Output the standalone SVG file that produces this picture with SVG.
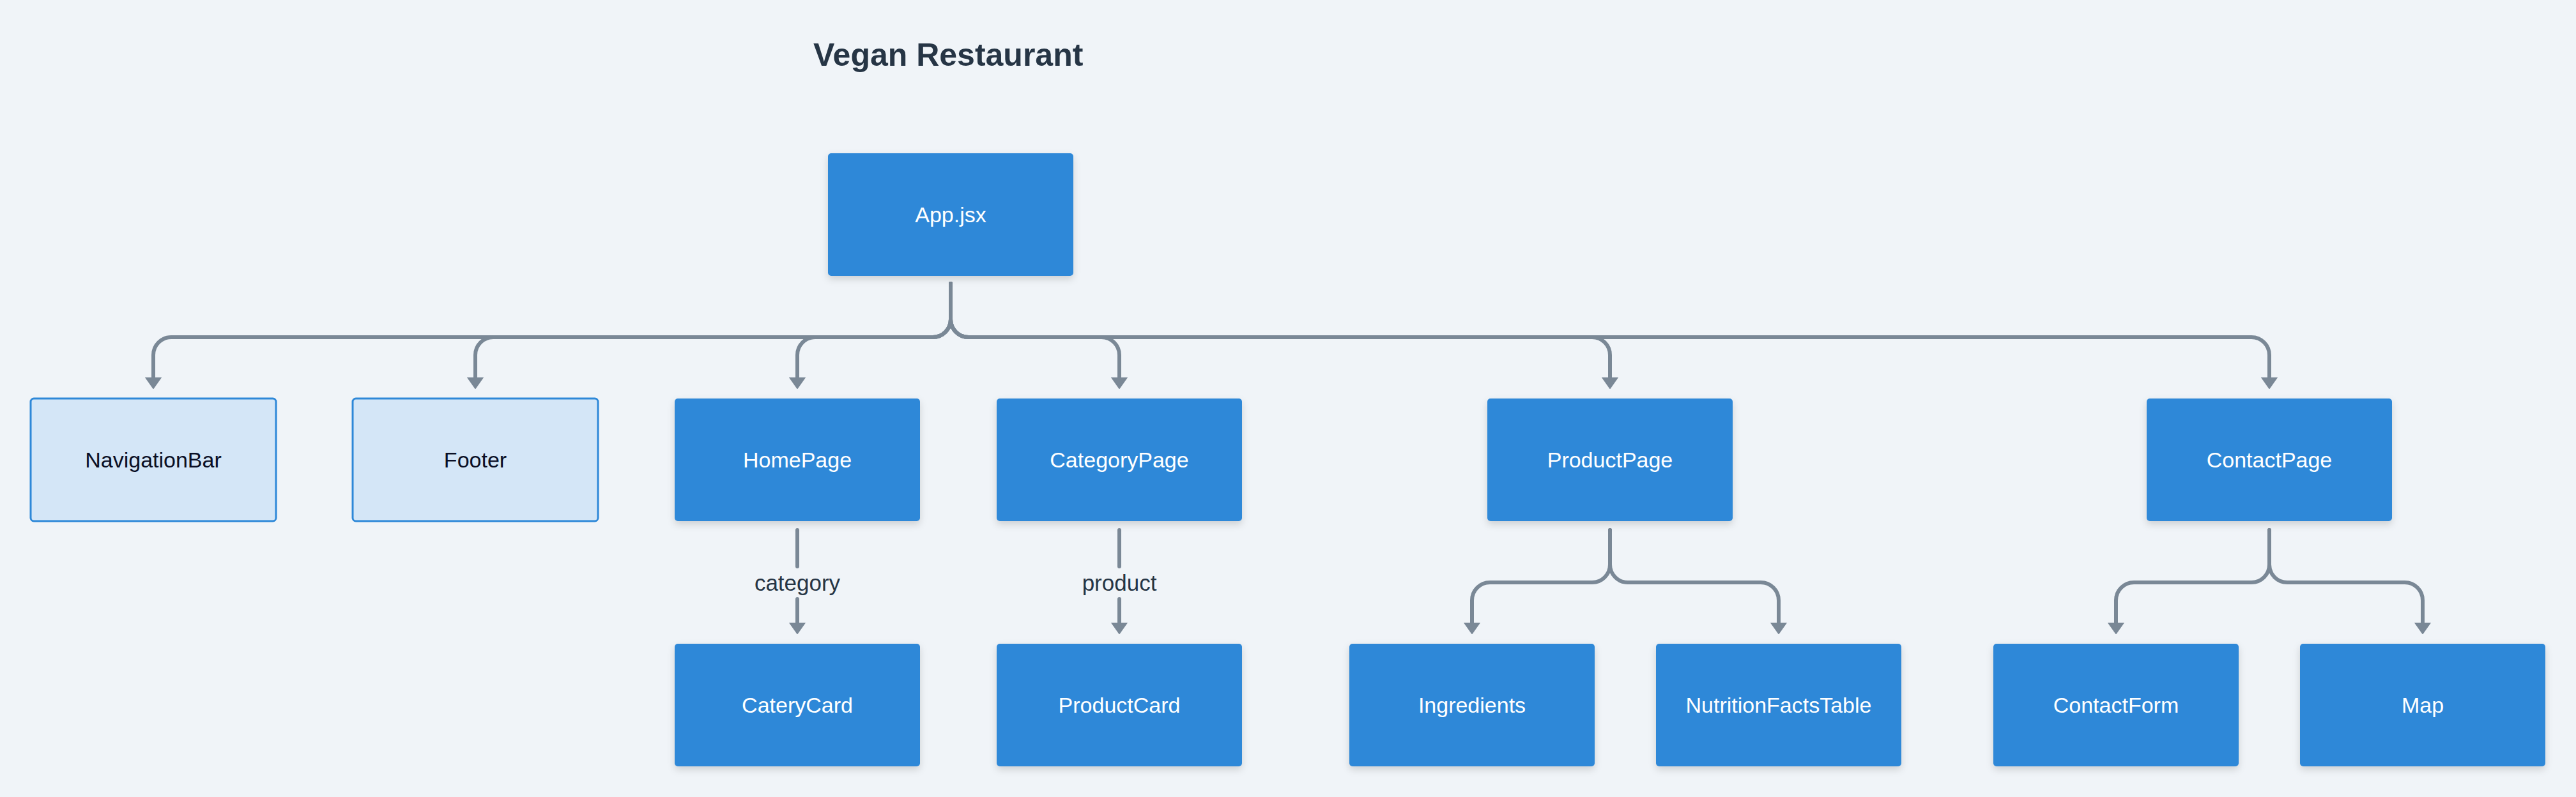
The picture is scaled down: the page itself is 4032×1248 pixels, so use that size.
<svg xmlns="http://www.w3.org/2000/svg" width="4032" height="1248" viewBox="0 0 4032 1248">
<style>
.bg{fill:#F0F4F8}
.node{fill:#2E88D8;filter:url(#sh)}
.lnode{fill:#D4E6F7;stroke:#2E88D8;stroke-width:3}
.t{font-family:"Liberation Sans",Arial,sans-serif;font-size:34px;text-anchor:middle;fill:#FFFFFF}
.lt{fill:#0A0F25}
.el{font-family:"Liberation Sans",Arial,sans-serif;font-size:35px;text-anchor:middle;fill:#263545}
.e{fill:none;stroke:#7A8896;stroke-width:6;stroke-linecap:round;stroke-linejoin:round}
.title{font-family:"Liberation Sans",Arial,sans-serif;font-size:50px;font-weight:bold;fill:#263545}
</style>
<defs>
<filter id="sh" x="-10%" y="-10%" width="120%" height="130%">
<feDropShadow dx="0" dy="5" stdDeviation="6" flood-color="#000000" flood-opacity="0.15"/>
</filter>
<marker id="arr" viewBox="0 0 18 26" markerWidth="18" markerHeight="26" refX="1" refY="13" orient="auto" markerUnits="userSpaceOnUse">
<path d="M0,1 L17,13 L0,25 Z" fill="#7A8896" stroke="#7A8896" stroke-width="2" stroke-linejoin="round"/>
</marker>
</defs>
<rect class="bg" x="0" y="0" width="4032" height="1248"/>
<text class="title" x="1273" y="103">Vegan Restaurant</text>

<g id="connectors">
<path class="e" marker-end="url(#arr)" d="M1488,444 V500 A28,28 0 0 1 1460,528 H268 A28,28 0 0 0 240,556 V592"/>
<path class="e" marker-end="url(#arr)" d="M1488,444 V500 A28,28 0 0 1 1460,528 H772 A28,28 0 0 0 744,556 V592"/>
<path class="e" marker-end="url(#arr)" d="M1488,444 V500 A28,28 0 0 1 1460,528 H1276 A28,28 0 0 0 1248,556 V592"/>
<path class="e" marker-end="url(#arr)" d="M1488,444 V500 A28,28 0 0 0 1516,528 H1724 A28,28 0 0 1 1752,556 V592"/>
<path class="e" marker-end="url(#arr)" d="M1488,444 V500 A28,28 0 0 0 1516,528 H2492 A28,28 0 0 1 2520,556 V592"/>
<path class="e" marker-end="url(#arr)" d="M1488,444 V500 A28,28 0 0 0 1516,528 H3524 A28,28 0 0 1 3552,556 V592"/>

<path class="e" d="M1248,830 V887"/>
<path class="e" marker-end="url(#arr)" d="M1248,938 V976"/>
<text class="el" x="1248" y="925">category</text>
<path class="e" d="M1752,830 V887"/>
<path class="e" marker-end="url(#arr)" d="M1752,938 V976"/>
<text class="el" x="1752" y="925">product</text>

<path class="e" marker-end="url(#arr)" d="M2520,830 V884 A28,28 0 0 1 2492,912 H2332 A28,28 0 0 0 2304,940 V976"/>
<path class="e" marker-end="url(#arr)" d="M2520,830 V884 A28,28 0 0 0 2548,912 H2756 A28,28 0 0 1 2784,940 V976"/>
<path class="e" marker-end="url(#arr)" d="M3552,830 V884 A28,28 0 0 1 3524,912 H3340 A28,28 0 0 0 3312,940 V976"/>
<path class="e" marker-end="url(#arr)" d="M3552,830 V884 A28,28 0 0 0 3580,912 H3764 A28,28 0 0 1 3792,940 V976"/>
</g>

<g id="app"><rect class="node" x="1296" y="240" width="384" height="192" rx="5"/><text class="t" x="1488" y="348">App.jsx</text></g>

<g id="navigationbar"><rect class="lnode" x="48" y="624" width="384" height="192" rx="5"/><text class="t lt" x="240" y="732">NavigationBar</text></g>
<g id="footer"><rect class="lnode" x="552" y="624" width="384" height="192" rx="5"/><text class="t lt" x="744" y="732">Footer</text></g>
<g id="homepage"><rect class="node" x="1056" y="624" width="384" height="192" rx="5"/><text class="t" x="1248" y="732">HomePage</text></g>
<g id="categorypage"><rect class="node" x="1560" y="624" width="384" height="192" rx="5"/><text class="t" x="1752" y="732">CategoryPage</text></g>
<g id="productpage"><rect class="node" x="2328" y="624" width="384" height="192" rx="5"/><text class="t" x="2520" y="732">ProductPage</text></g>
<g id="contactpage"><rect class="node" x="3360" y="624" width="384" height="192" rx="5"/><text class="t" x="3552" y="732">ContactPage</text></g>

<g id="caterycard"><rect class="node" x="1056" y="1008" width="384" height="192" rx="5"/><text class="t" x="1248" y="1116">CateryCard</text></g>
<g id="productcard"><rect class="node" x="1560" y="1008" width="384" height="192" rx="5"/><text class="t" x="1752" y="1116">ProductCard</text></g>
<g id="ingredients"><rect class="node" x="2112" y="1008" width="384" height="192" rx="5"/><text class="t" x="2304" y="1116">Ingredients</text></g>
<g id="nutritionfactstable"><rect class="node" x="2592" y="1008" width="384" height="192" rx="5"/><text class="t" x="2784" y="1116">NutritionFactsTable</text></g>
<g id="contactform"><rect class="node" x="3120" y="1008" width="384" height="192" rx="5"/><text class="t" x="3312" y="1116">ContactForm</text></g>
<g id="map"><rect class="node" x="3600" y="1008" width="384" height="192" rx="5"/><text class="t" x="3792" y="1116">Map</text></g>
</svg>
